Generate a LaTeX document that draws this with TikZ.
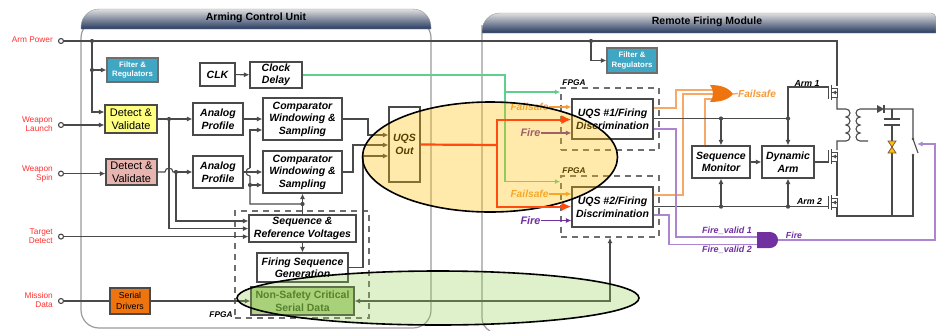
\documentclass[tikz,border=0pt]{standalone}
\usepackage{fontspec}
\usetikzlibrary{arrows.meta}
\setmainfont{Liberation Sans}
\definecolor{linec}{HTML}{4A4A4A}
\definecolor{edgec}{HTML}{9A9A9A}
\definecolor{navyc}{HTML}{26395F}
\definecolor{tealc}{HTML}{3FA6C4}
\definecolor{redc}{HTML}{FF3030}
\definecolor{hotc}{HTML}{FF4A10}
\definecolor{orangec}{HTML}{EE7410}
\definecolor{softorange}{HTML}{F5A868}
\definecolor{labelorange}{HTML}{F59A3A}
\definecolor{purplec}{HTML}{7030A0}
\definecolor{softpurple}{HTML}{AC84D0}
\definecolor{wiregreen}{HTML}{5FCF8E}
\definecolor{detectA}{HTML}{FFFF80}
\definecolor{detectB}{HTML}{E8B4B0}
\definecolor{safegreen}{HTML}{B2D28C}
\definecolor{safetext}{HTML}{3F5F1F}
\definecolor{markgold}{HTML}{FFC000}
\definecolor{markgreen}{HTML}{92D050}
\tikzset{
  blk/.style={draw=linec, line width=1.1pt, fill=white, inner sep=0pt, align=center, font=\fontsize{10.5}{12.5}\selectfont\bfseries\itshape},
  plainblk/.style={blk, font=\fontsize{11}{13}\selectfont},
  smallblk/.style={blk, draw=linec!80, fill=tealc, text=white, font=\fontsize{7.8}{9.5}\selectfont\bfseries},
  dashbox/.style={draw=linec!80, line width=1.3pt, dash pattern=on 6pt off 5pt, inner sep=0pt},
  wire/.style={draw=linec, line width=1.1pt},
  term/.style={circle, draw=linec, line width=1.1pt, fill=white, inner sep=0pt, minimum size=5pt},
  tag/.style={inner sep=0pt, font=\fontsize{8.8}{10}\selectfont\bfseries\itshape},
  sidelab/.style={text=redc, anchor=east, align=right, inner sep=0pt, font=\fontsize{8.3}{9}\selectfont}
}
\begin{document}
\begin{tikzpicture}[>={Latex[length=5.5pt,width=5pt]}, x=1pt, y=-1pt]
\useasboundingbox (0,0) rectangle (936,330);

% panels
\draw[edgec, line width=1.2pt, rounded corners=18pt] (81,20) rectangle (431,328);
\shade[top color=gray!25, middle color=gray!55, bottom color=navyc, draw=edgec]
  (81,29) [rounded corners=18pt] -- (81,9) -- (431,9) [sharp corners] -- (431,29) -- cycle;
\draw[edgec, line width=1.2pt] (482,25) -- (482,318) .. controls (482,324) and (485,328) .. (490,331);
\shade[top color=gray!25, middle color=gray!55, bottom color=navyc, draw=edgec]
  (482,33) [rounded corners=18pt] -- (482,13) [rounded corners=5pt] -- (936,13) [sharp corners] -- (936,33) -- cycle;
\node[inner sep=0pt, font=\fontsize{10.5}{12}\selectfont\bfseries] (titleA) at (256,18) {Arming Control Unit};
\node[inner sep=0pt, font=\fontsize{10.5}{12}\selectfont\bfseries] (titleB) at (707,22) {Remote Firing Module};

% dashed FPGA frames
\node[dashbox, minimum width=134pt, minimum height=107pt] (fpgaS) at (302,264.5) {};
\node[dashbox, minimum width=98pt, minimum height=62pt] (fpgaA) at (610,119) {};
\node[dashbox, minimum width=98pt, minimum height=61pt] (fpgaB) at (610,206.5) {};
\foreach \nm/\x/\y in {tagS/221/315, tagA/574/83, tagB/574/171}
  \node[tag, font=\fontsize{8.3}{10}\selectfont\bfseries\itshape] (\nm) at (\x,\y) {FPGA};

% left inputs
\foreach \nm/\y/\txt/\ty in {tPower/41/{Arm Power}/40, tLaunch/125/{Weapon\\Launch}/124.5, tSpin/173.6/{Weapon\\Spin}/173.5, tTarget/236.6/{Target\\Detect}/236.5, tData/301/{Mission\\Data}/300.5}
{
  \node[term] (\nm) at (61,\y) {};
  \node[sidelab] (lab\nm) at (53,\ty) {\txt};
}

% blocks
\node[smallblk, minimum width=51pt, minimum height=24pt] (filtA) at (132.5,70) {Filter \&\\Regulators};
\node[smallblk, minimum width=50pt, minimum height=25pt] (filtB) at (632,60.5) {Filter \&\\Regulators};
\node[blk, minimum width=35pt, minimum height=23pt] (clk) at (217.5,74.5) {CLK};
\node[blk, minimum width=52pt, minimum height=26pt] (delay) at (276,75) {Clock\\Delay};
\node[plainblk, fill=detectA, minimum width=52pt, minimum height=28pt] (detA) at (131,119) {Detect \&\\Validate};
\node[plainblk, fill=detectB, minimum width=51pt, minimum height=26pt] (detB) at (131.5,172) {Detect \&\\Validate};
\node[blk, minimum width=50pt, minimum height=32pt] (anaA) at (218,119) {Analog\\Profile};
\node[blk, minimum width=50pt, minimum height=32pt] (anaB) at (218,172) {Analog\\Profile};
\node[blk, minimum width=79pt, minimum height=42pt] (cmpA) at (302.5,119) {Comparator\\Windowing \&\\Sampling};
\node[blk, minimum width=79pt, minimum height=42pt] (cmpB) at (302.5,172) {Comparator\\Windowing \&\\Sampling};
\node[blk, minimum width=107pt, minimum height=27pt] (seqref) at (302.5,228.5) {Sequence \&\\Reference Voltages};
\node[blk, minimum width=91pt, minimum height=29pt] (firseq) at (302.5,267.5) {Firing Sequence\\Generation};
\node[blk, fill=safegreen, text=safetext, font=\fontsize{10.5}{13}\selectfont\bfseries, minimum width=103pt, minimum height=28pt] (serdat) at (302.5,301) {Non-Safety Critical\\Serial Data};
\node[plainblk, fill=orangec, font=\fontsize{8.7}{10.5}\selectfont, minimum width=40pt, minimum height=26pt] (serdrv) at (130,301) {Serial\\Drivers};
\node[blk, minimum width=31pt, minimum height=75pt] (uqsout) at (404.5,144.5) {UQS\\Out};
\node[blk, minimum width=81pt, minimum height=40pt] (uqsA) at (612.5,119) {UQS \#1/Firing\\Discrimination};
\node[blk, minimum width=81pt, minimum height=40pt] (uqsB) at (612.5,207) {UQS \#2/Firing\\Discrimination};
\node[blk, minimum width=58pt, minimum height=32pt] (mon) at (721,162) {Sequence\\Monitor};
\node[blk, minimum width=52pt, minimum height=32pt] (dyn) at (788,162) {Dynamic\\Arm};

% junctions
\coordinate (jPower) at (92,41);
\coordinate (jFilt) at (92,70);
\coordinate (jDetA) at (169,119);
\coordinate (jDetB) at (176,172);
\coordinate (jAnaB) at (250,185);
\coordinate (jCmp) at (302.5,204);
\coordinate (jPowerB) at (591,41);
\coordinate (jMonA) at (721,118.5);
\coordinate (jDynA) at (788,118.5);
\coordinate (jMonB) at (721,206.6);
\coordinate (jDynB) at (788,206.6);
\coordinate (fetA) at (837,86);
\coordinate (fetB) at (837,150);
\coordinate (fetC) at (837,196);
\foreach \p in {jPower,jFilt,jDetA,jDetB,jAnaB,jCmp,jPowerB,jMonA,jDynA,jMonB,jDynB}
  \fill[linec] (\p) circle (2.1pt);

% arming unit wiring
\draw[wire] (tPower) -- (837,41) -- (fetA);
\draw[wire,->] (jPower) |- (detA.west |- 0,112);
\draw[wire,->] (jFilt) -- (filtA.west |- jFilt);
\draw[wire,->] (tLaunch) -- (detA.west |- tLaunch);
\draw[wire,->] (tSpin) -- (detB.west |- tSpin);
\draw[wire,->] (clk) -- (delay);
\draw[wire,->] (detA) -- (anaA);
\draw[wire] (detB.east) -- (165,172) arc[start angle=180, end angle=0, radius=4pt] -- (jDetB);
\draw[wire,->] (jDetB) -- (anaB);
\draw[wire,->] (jDetA) -- (169,228.6) -- (seqref.west |- 0,228.6);
\draw[wire,->] (jDetB) -- (176,221) -- (seqref.west |- 0,221);
\draw[wire,->] (tTarget) -- (seqref.west |- tTarget);
\draw[wire,->] (anaA) -- (cmpA);
\draw[wire,->] (anaB) -- (cmpB);
\draw[wire,->] (250,168) -- (250,130) -- (cmpA.west |- 0,130);
\draw[wire] (250,168) arc[start angle=90, end angle=270, radius=4pt] -- (250,204) -- (jCmp);
\draw[wire,->] (jAnaB) -- (cmpB.west |- jAnaB);
\draw[wire,->] (jCmp) -- (cmpB.south);
\draw[wire] (seqref.north) -- (jCmp);
\draw[wire,->] (seqref) -- (firseq);
\draw[wire] (tData) -- (serdrv);
\draw[wire,->] (serdrv) -- (serdat);
\draw[wire,->] (cmpA.east) -| (368,135) -- (uqsout.west |- 0,135);
\draw[wire,->] (cmpB.east) -| (353,145) -- (uqsout.west |- 0,145);
\draw[wire,->] (firseq.east) -| (363,156) -- (uqsout.west |- 0,156);
\draw[wire,<->] (serdat.east) -- (610,301) -- (fpgaB.south -| 610,0);

% clock into the module
\draw[wiregreen, line width=1.6pt] (delay.east) -| (505,181.6);
\draw[wiregreen, line width=1.2pt, ->] (505,92) -- (fpgaA.west |- 0,92);
\draw[wiregreen, line width=1.2pt, ->] (505,181.6) -- (fpgaB.west |- 0,181.6);

% firing module inputs
\node[tag, text=labelorange, font=\fontsize{10.2}{12}\selectfont\bfseries\itshape] (lfailA) at (529.5,107) {Failsafe};
\node[tag, text=labelorange, font=\fontsize{10.2}{12}\selectfont\bfseries\itshape] (lfailB) at (529.5,194) {Failsafe};
\node[tag, text=purplec, font=\fontsize{10.9}{12}\selectfont\bfseries\itshape] (lfireA) at (530.5,133) {Fire};
\node[tag, text=purplec, font=\fontsize{10.9}{12}\selectfont\bfseries\itshape] (lfireB) at (530.5,220.5) {Fire};
\draw[labelorange, line width=1.2pt, ->] (lfailA.east) -- (uqsA.west |- lfailA);
\draw[labelorange, line width=1.2pt, ->] (lfailB.east) -- (uqsB.west |- lfailB);
\draw[purplec, line width=1.2pt, ->] (lfireA.east) -- (uqsA.west |- lfireA);
\draw[purplec, line width=1.4pt, ->] (lfireB.east) -- (uqsB.west |- lfireB);
\draw[wire,->] (jPowerB) |- (filtB.west);

% or gate and its inputs
\draw[softorange, line width=1.4pt] (uqsA.east |- 0,108) -- (676,108) |- (714,90);
\draw[softorange, line width=1.4pt] (uqsB.east |- 0,195) -- (683,195) |- (714,94);
\draw[softorange, line width=1.4pt] (mon.north -| 705,0) |- (714,99);
\fill[orangec] (710,85) .. controls (720,85) and (728,87) .. (733,94) .. controls (728,100) and (720,102) .. (710,102) .. controls (714,97) and (714,90) .. (710,85);
\node[tag, text=labelorange, font=\fontsize{10.2}{12}\selectfont\bfseries\itshape] (lfailC) at (757,93.5) {Failsafe};
\draw[softorange, line width=1.4pt] (733,94) -- (lfailC.west);

% arm lines
\draw[wire] (uqsA.east |- jMonA) -- (jDynA);
\draw[wire] (uqsB.east |- jMonB) -- (828,206.6);
\draw[wire,->] (jMonA) -- (mon.north -| jMonA);
\draw[wire,->] (jDynA) -- (dyn.north);
\draw[wire,->] (jMonB) -- (mon.south -| jMonB);
\draw[wire,->] (jDynB) -- (dyn.south);
\draw[wire,->] (mon) -- (dyn);
\draw[wire] (jDynA) -- (788,87) -- (828,87);
\draw[wire] (dyn.east) -- (828,162);
\node[tag] (larmA) at (807,83) {Arm 1};
\node[tag] (larmB) at (809.5,201) {Arm 2};

% switches, transformer and output stage
\foreach \p in {fetA,fetB,fetC}
{
  \draw[linec, line width=.9pt] (\p) ++(-9,0) -- ++(0,13);
  \draw[linec, line width=.9pt] (\p) ++(-6,-1) -- ++(0,15);
  \draw[linec, line width=.9pt] (\p) ++(-6,2) -- ++(6,0) -- ++(0,9) -- ++(-6,0);
  \draw[linec, line width=.9pt] (\p) ++(-6,6.5) -- ++(6,0);
  \fill[linec] (\p) ++(-4.5,6.5) -- ++(3.5,-2) -- ++(0,4) -- cycle;
}
\draw[wire] (837,97) -- (837,109) -- (846,109)
  arc[start angle=90, end angle=-90, radius=4pt] arc[start angle=90, end angle=-90, radius=4pt]
  arc[start angle=90, end angle=-90, radius=4pt] arc[start angle=90, end angle=-90, radius=4pt]
  -- (837,141) -- (fetB);
\draw[wire] (837,161) -- (fetC);
\draw[wire] (837,207) -- (837,216) -- (913,216) -- (913,155);
\draw[wire] (868,141) -- (860,141)
  arc[start angle=-90, end angle=-270, radius=4pt] arc[start angle=-90, end angle=-270, radius=4pt]
  arc[start angle=-90, end angle=-270, radius=4pt] arc[start angle=-90, end angle=-270, radius=4pt]
  -- (877,109);
\fill[linec] (877,105) -- (884,109) -- (877,113) -- cycle;
\draw[wire] (884,105) -- (884,113);
\draw[wire] (884,109) -- (913,109) -- (913,139) -- (918,153);
\fill[linec] (913,139) circle (1.4pt) (913,155) circle (1.4pt);
\draw[wire] (892,109) -- (892,119);
\draw[wire] (884,119) -- (900,119) (884,125) -- (900,125);
\draw[wire] (892,125) -- (892,216);
\draw[fill=markgold, draw=linec!70!orange, line width=.8pt] (888,141) -- (896,141) -- (888,153) -- (896,153) -- cycle;

% fire lines and and gate
\draw[softpurple, line width=1.4pt] (uqsA.east |- 0,129) -- (676,129) |- (757,237);
\draw[softpurple, line width=1.4pt] (uqsB.east |- 0,215) -- (669,215) |- (757,244.6);
\draw[softpurple, line width=1.4pt, ->] (778,240) -- (935,240) -- (935,144) -- (917,144);
\fill[purplec] (757,232) -- (770,232) arc[start angle=90, end angle=-90, radius=8pt] -- (757,248) -- cycle;
\node[tag, text=purplec, font=\fontsize{9}{10}\selectfont\bfseries\itshape] (lvalA) at (727,231) {Fire\_valid 1};
\node[tag, text=purplec, font=\fontsize{9}{10}\selectfont\bfseries\itshape] (lvalB) at (727,250) {Fire\_valid 2};
\node[tag, text=purplec, font=\fontsize{8.8}{10}\selectfont\bfseries\itshape] (lfireC) at (794,235) {Fire};

% highlight ellipses
\draw[fill=markgold, fill opacity=.33, draw=black, line width=1.6pt] (490,157) ellipse [x radius=127.5pt, y radius=55pt];
\draw[fill=markgreen, fill opacity=.3, draw=black, line width=1.6pt] (438,298) ellipse [x radius=201pt, y radius=27pt];

% trigger lines on top of the highlight
\coordinate (jHot) at (497,145);
\draw[hotc, line width=2.2pt] (uqsout.east) -- (jHot);
\draw[hotc, line width=2.2pt, -{Latex[length=10pt,width=9pt]}] (jHot) |- (uqsA.west |- 0,119.6);
\draw[hotc, line width=2.2pt, -{Latex[length=10pt,width=9pt]}] (jHot) |- (uqsB.west |- 0,206.6);
\end{tikzpicture}
\end{document}
